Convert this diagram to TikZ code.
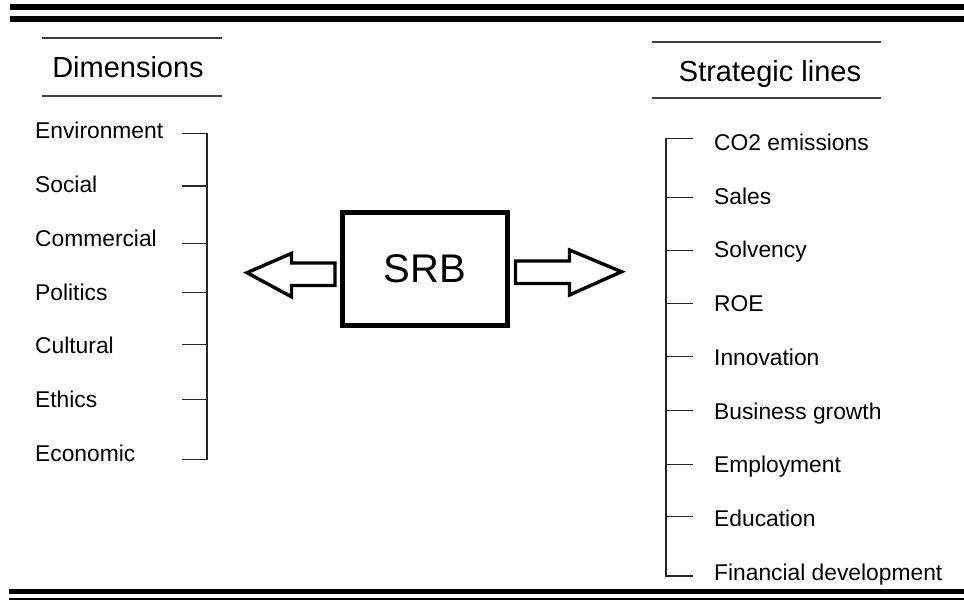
\documentclass[tikz,border=0pt]{standalone}
\usepackage{fontspec}
\setmainfont{Liberation Sans}
\begin{document}
\begin{tikzpicture}[x=1pt,y=-1pt,
  rule/.style={line width=#1,black},
  headrule/.style={line width=1.8pt,black!75},
  tick/.style={line width=1.5pt,black!85},
  header/.style={font=\fontsize{29}{34}\selectfont,inner sep=0pt},
  item/.style={font=\fontsize{22.8}{27}\selectfont,inner sep=0pt,anchor=base west},
  core/.style={draw,line width=5pt,minimum width=165pt,minimum height=113pt,inner sep=0pt,
    font=\fontsize{40}{46}\selectfont},
  blockarrow/.style={draw,line width=3.4pt,line join=miter,fill=white}]
\useasboundingbox (0,0) rectangle (964,600);

% page rules
\draw[rule=5.5pt] (10,7.2) -- (964,7.2);
\draw[rule=6pt] (10,19.4) -- (964,19.4);
\draw[rule=5pt] (9,591.5) -- (964,591.5);
\draw[rule=1.8pt] (9,598.6) -- (964,598.6);

% column headers
\draw[headrule] (42,37.7) -- (222,37.7);
\draw[headrule] (42,96.3) -- (222,96.3);
\node[header] (dimh) at (128,67) {Dimensions};
\draw[headrule] (652,41.7) -- (881,41.7);
\draw[headrule] (652,97.7) -- (881,97.7);
\node[header] (stratl) at (770,74) {Strategic lines};

% central block
\node[core] (srb) at (425,269) {SRB};

% hollow block arrows, closed just short of the block
\coordinate (la) at ([xshift=-5pt]srb.west);
\coordinate (ra) at ([xshift=5.5pt]srb.east);
\draw[blockarrow] (la |- 0,263) -- (291.5,263) -- (291.5,253.4) -- (247,272.7)
  -- (291.5,296.8) -- (291.5,285.5) -- (la |- 0,285.5) -- cycle;
\draw[blockarrow] (ra |- 0,261) -- (569.5,261) -- (569.5,250) -- (621.5,271.7)
  -- (569.5,295) -- (569.5,283.5) -- (ra |- 0,283.5) -- cycle;

% dimensions
\node[item] (d1) at (35,138.9) {Environment};
\node[item] (d2) at (35,192.6) {Social};
\node[item] (d3) at (35,246.3) {Commercial};
\node[item] (d4) at (35,300.0) {Politics};
\node[item] (d5) at (35,353.7) {Cultural};
\node[item] (d6) at (35,407.4) {Ethics};
\node[item] (d7) at (35,461.1) {Economic};

\foreach \i/\y in {1/133.3,2/186,3/243.3,4/292.7,5/344.3,6/399.3,7/459.3}{
  \coordinate (dl\i) at (182,\y);
  \coordinate (db\i) at (206.8,\y);
}
\draw[tick] (dl1) -- (db1) -- (db7) -- (dl7);
\foreach \i in {2,...,6}{ \draw[tick] (dl\i) -- (db\i); }

% strategic lines
\node[item] (s1) at (714,150.5) {CO2 emissions};
\node[item] (s2) at (714,204.2) {Sales};
\node[item] (s3) at (714,257.9) {Solvency};
\node[item] (s4) at (714,311.6) {ROE};
\node[item] (s5) at (714,365.3) {Innovation};
\node[item] (s6) at (714,419.0) {Business growth};
\node[item] (s7) at (714,472.7) {Employment};
\node[item] (s8) at (714,526.4) {Education};
\node[item] (s9) at (714,580.1) {Financial development};

\foreach \i/\y in {1/138.7,2/197.7,3/250.3,4/303.7,5/356.7,6/410.3,7/464.3,8/516.7,9/576}{
  \coordinate (sb\i) at (666,\y);
  \coordinate (sr\i) at (693.3,\y);
}
\draw[tick] (sr1) -- (sb1) -- (sb9) -- (sr9);
\foreach \i in {2,...,8}{ \draw[tick] (sb\i) -- (sr\i); }
\end{tikzpicture}
\end{document}
